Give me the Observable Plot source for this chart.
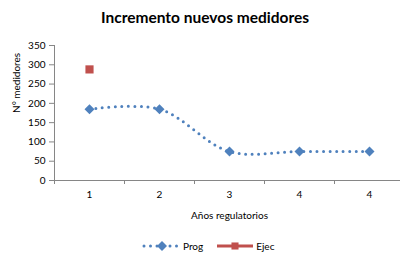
<!DOCTYPE html>
<html>
<head>
<meta charset="utf-8">
<script src="https://cdn.jsdelivr.net/npm/d3@7"></script>
<script src="https://cdn.jsdelivr.net/npm/@observablehq/plot@0.6"></script>
<style>
  html, body { margin: 0; padding: 0; background: #fff; }
  #wrap { position: relative; width: 400px; height: 256px; font-family: Lato, "Open Sans", sans-serif; }
  #title { position: absolute; left: 0; width: 410px; top: 8px; text-align: center; font-weight: bold; font-size: 15.5px; color: #000; }
  #legend { position: absolute; top: 240px; left: 142px; font-size: 10px; display: flex; align-items: center; color: #000; }
  #legend span { margin-right: 12px; margin-left: 1px; }
  #chart { position: absolute; left: 0; top: 0; }
</style>
</head>
<body>
<div id="wrap">
  <div id="chart"></div>
  <div id="title">Incremento nuevos medidores</div>
  <div id="legend"></div>
</div>
<script>
const categories = ["1", "2", "3", "4", "4"];
const progValues = [185, 185, 75, 75, 75];
const ejecValues = [288, null, null, null, null];
const yTicks = [0, 50, 100, 150, 200, 250, 300, 350];

const blue = "#4F81BD";
const red = "#C0504D";
const axisGray = "#868686";

const idx = categories.map((_, i) => i + 1);
const prog = idx.map((x, i) => ({x, y: progValues[i]}));
const ejec = idx.map((x, i) => ({x, y: ejecValues[i]})).filter(d => d.y != null);
const bounds = d3.range(0.5, categories.length + 1, 1);

// square rotated 45°
const rhombus = {
  draw(context, size) {
    const h = Math.sqrt(size / 2);
    context.moveTo(0, -h);
    context.lineTo(h, 0);
    context.lineTo(0, h);
    context.lineTo(-h, 0);
    context.closePath();
  }
};

const chart = Plot.plot({
  width: 400,
  height: 256,
  marginTop: 45,
  marginBottom: 76,
  marginLeft: 54,
  marginRight: -4,
  style: {fontFamily: "Lato, 'Open Sans', sans-serif", fontSize: "10px", color: "#000", background: "transparent"},
  x: {type: "linear", domain: [0.5, categories.length + 0.5]},
  y: {domain: [0, 350]},
  marks: [
    Plot.ruleY([0], {stroke: axisGray, strokeWidth: 1}),
    Plot.ruleX([0.5], {stroke: axisGray, strokeWidth: 1}),
    Plot.axisY({ticks: yTicks, tickSize: 5, tickPadding: 4, stroke: axisGray, label: null, fill: "#000"}),
    Plot.axisX({ticks: bounds, tickSize: 4, tickFormat: () => "", stroke: axisGray, label: null}),
    Plot.axisX({ticks: idx, tickSize: 0, tickPadding: 10, tickFormat: d => categories[d - 1], label: null, fill: "#000"}),
    Plot.text(["Años regulatorios"], {frameAnchor: "bottom", dy: 38, fontSize: 10, fill: "#000"}),
    Plot.text(["N° medidores"], {frameAnchor: "left", dx: -38, rotate: -90, fontSize: 10, fill: "#000"}),
    Plot.line(prog, {x: "x", y: "y", stroke: blue, strokeWidth: 3, strokeDasharray: "0 6.5", strokeLinecap: "round", curve: "catmull-rom"}),
    Plot.dot(prog, {x: "x", y: "y", symbol: rhombus, fill: blue, r: 4}),
    Plot.line(ejec, {x: "x", y: "y", stroke: red, strokeWidth: 3}),
    Plot.dot(ejec, {x: "x", y: "y", symbol: "square", fill: red, r: 4.6})
  ]
});
document.getElementById("chart").appendChild(chart);

// legend
const legend = document.getElementById("legend");
const items = [
  {name: "Prog", color: blue, dash: "0 6.5", sym: rhombus, size: 50},
  {name: "Ejec", color: red, dash: null, sym: d3.symbolSquare, size: 50}
];
for (const it of items) {
  const ns = "http://www.w3.org/2000/svg";
  const svg = document.createElementNS(ns, "svg");
  svg.setAttribute("width", 40);
  svg.setAttribute("height", 12);
  const line = document.createElementNS(ns, "line");
  line.setAttribute("x1", 2); line.setAttribute("x2", 38);
  line.setAttribute("y1", 6); line.setAttribute("y2", 6);
  line.setAttribute("stroke", it.color);
  line.setAttribute("stroke-width", 3);
  if (it.dash) { line.setAttribute("stroke-dasharray", it.dash); line.setAttribute("stroke-linecap", "round"); }
  svg.appendChild(line);
  const p = document.createElementNS(ns, "path");
  p.setAttribute("d", d3.symbol(it.sym, it.size)());
  p.setAttribute("transform", "translate(20,6)");
  p.setAttribute("fill", it.color);
  svg.appendChild(p);
  legend.appendChild(svg);
  const s = document.createElement("span");
  s.textContent = it.name;
  legend.appendChild(s);
}
</script>
</body>
</html>
